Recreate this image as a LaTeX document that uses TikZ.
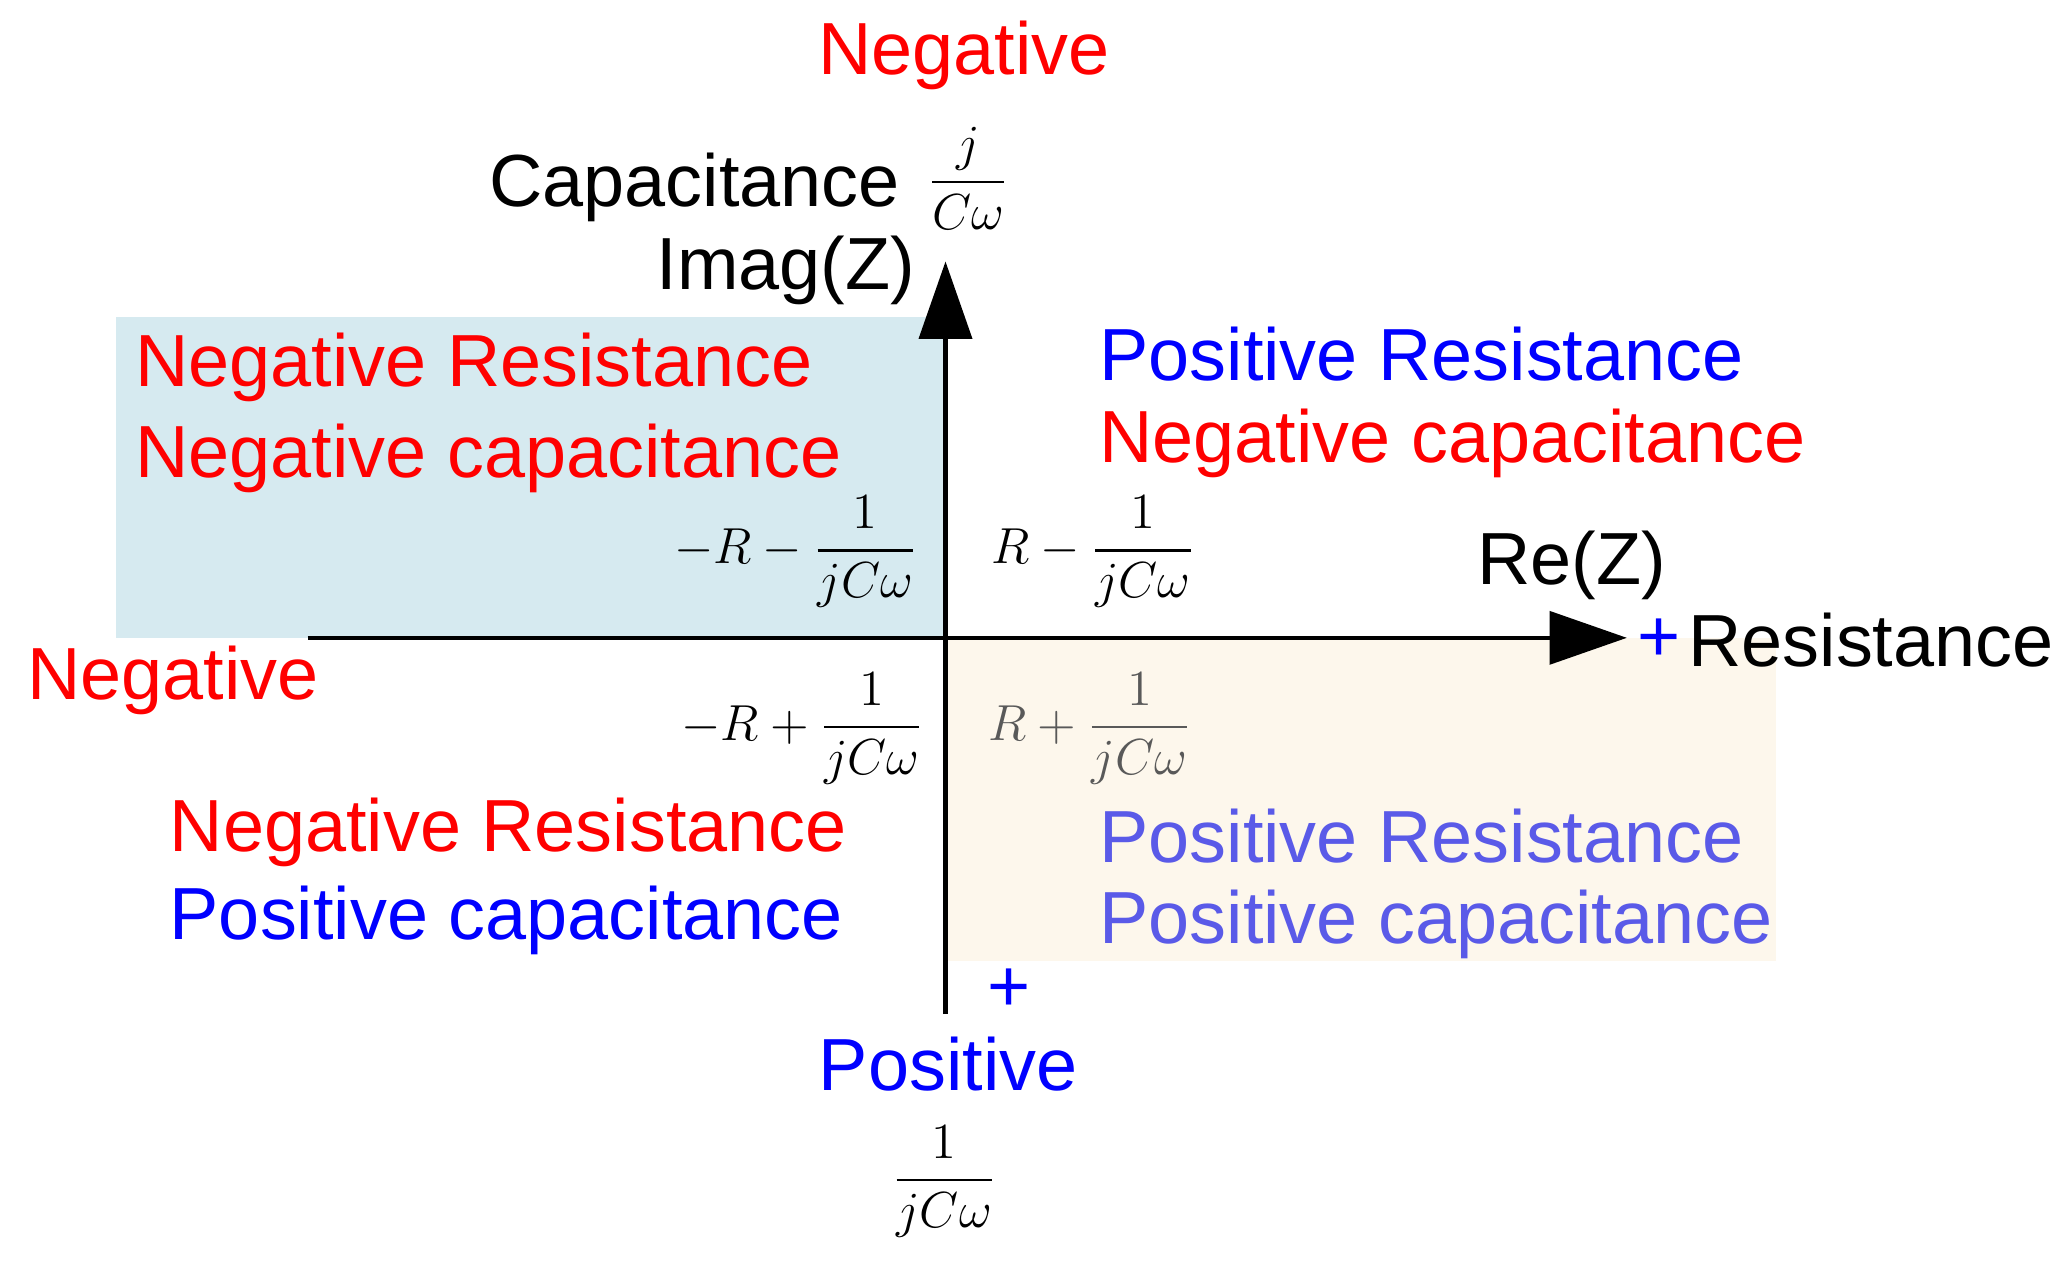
\documentclass[tikz,border=0pt]{standalone}
\usepackage{fontspec}
\setmainfont{Liberation Sans}
\usepackage{amsmath}
\usetikzlibrary{arrows.meta}
\definecolor{qblue}{RGB}{214,234,240}
\definecolor{qbeige}{RGB}{253,247,236}
\definecolor{softblue}{RGB}{90,90,232}
\tikzset{
  lbl/.style={font=\fontsize{21}{24}\selectfont, inner sep=0pt},
  eq/.style={font=\fontsize{15.5}{18}\selectfont, inner sep=0pt},
  axis/.style={line width=1.3pt, -{Triangle[length=22pt,width=15pt]}}
}
\begin{document}
\begin{tikzpicture}[x=0.0132cm, y=-0.0132cm]
    \useasboundingbox (0,0) rectangle (1560,965); % bounding box

    % quadrant shading
    \fill [qblue]  (88, 240) rectangle (715, 483);
    \fill [qbeige] (715, 483) rectangle (1345, 728);

    % axes
    \coordinate (xs) at (233, 483);
    \coordinate (xe) at (1232, 483);
    \coordinate (ys) at (716, 768);
    \coordinate (ye) at (716, 198);
    \draw [axis] (xs) -- (xe);
    \draw [axis] (ys) -- (ye);

    % axis labels
    \node [lbl, red]   (negtop) at (730, 42)  {Negative};
    \node [lbl, anchor=east] (cap) at (682, 142) {Capacitance};
    \node [eq]  (capfrac) at (733, 135) {$\dfrac{j}{C\omega}$};
    \node [lbl] (imag) at (595, 205) {Imag(Z)};
    \node [lbl] (re) at (1190, 428) {Re(Z)};
    \node [lbl, blue] (plusr) at (1256, 485) {+};
    \node [lbl, anchor=west] (res) at (1278, 485) {Resistance};
    \node [lbl, red] (negleft) at (131, 515) {Negative};
    \node [lbl, blue] (plusb) at (764, 750) {+};
    \node [lbl, blue] (posbot) at (718, 806) {Positive};
    \node [eq] (botfrac) at (715, 895) {$\dfrac{1}{jC\omega}$};

    % quadrant texts
    \node [lbl, red, anchor=west]  (q2a) at (102, 278) {Negative Resistance};
    \node [lbl, red, anchor=west]  (q2b) at (102, 347) {Negative capacitance};
    \node [lbl, blue, anchor=west] (q1a) at (832, 268) {Positive Resistance};
    \node [lbl, red, anchor=west]  (q1b) at (832, 336) {Negative capacitance};
    \node [lbl, red, anchor=west]  (q3a) at (128, 630) {Negative Resistance};
    \node [lbl, blue, anchor=west] (q3b) at (128, 697) {Positive capacitance};
    \node [lbl, softblue, anchor=west] (q4a) at (832, 633) {Positive Resistance};
    \node [lbl, softblue, anchor=west] (q4b) at (832, 700) {Positive capacitance};

    % impedances
    \node [eq, anchor=east] (z2) at (695, 418) {$-R-\dfrac{1}{jC\omega}$};
    \node [eq, anchor=west] (z1) at (750, 418) {$R-\dfrac{1}{jC\omega}$};
    \node [eq, anchor=east] (z3) at (700, 552) {$-R+\dfrac{1}{jC\omega}$};
    \node [eq, anchor=west, gray!70!black] (z4) at (748, 552) {$R+\dfrac{1}{jC\omega}$};
\end{tikzpicture}
\end{document}
